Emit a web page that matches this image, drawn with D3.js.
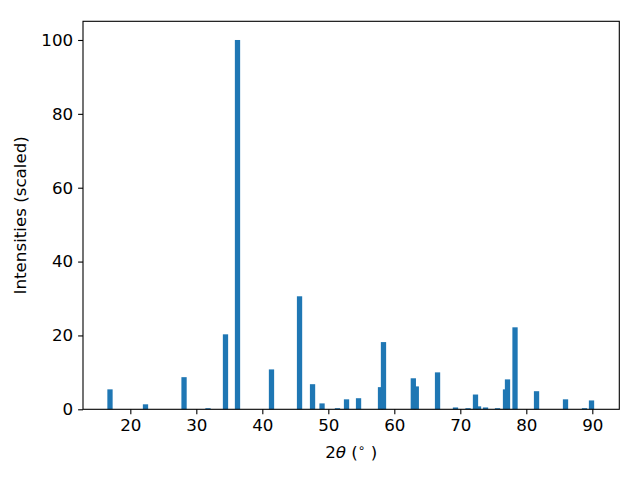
<!DOCTYPE html>
<html>
<head>
<meta charset="utf-8">
<script src="https://cdn.jsdelivr.net/npm/d3@7"></script>
<style>
  body { margin: 0; background: #fff; }
  text { font-family: "DejaVu Sans", sans-serif; }
</style>
</head>
<body>
<script>
// peak positions (2theta, degrees) and scaled intensities
var twoTheta = [16.92, 22.30, 28.14, 31.77, 34.42, 36.24, 41.39, 45.64, 47.61, 49.05,
                51.39, 52.76, 54.58, 57.91, 58.36, 62.88, 63.33, 66.55, 69.27, 71.17,
                72.30, 72.76, 73.82, 75.64, 76.85, 77.15, 78.29, 81.55, 85.94, 88.82, 89.88];
var intensity = [5.4, 1.35, 8.7, 0.3, 20.3, 100, 10.8, 30.6, 6.8, 1.6,
                 0.3, 2.7, 3.0, 6.0, 18.2, 8.4, 6.2, 10.0, 0.5, 0.3,
                 4.0, 0.8, 0.5, 0.3, 5.4, 8.1, 22.2, 4.9, 2.7, 0.3, 2.4];
var xTicks = [20, 30, 40, 50, 60, 70, 80, 90];
var yTicks = [0, 20, 40, 60, 80, 100];
var barWidth = 0.8;

var data = twoTheta.map(function(t, i) { return {t: t, v: intensity[i]}; });

var margin = {top: 21.3, right: 20.7, bottom: 70.7, left: 83},
    width = 640 - margin.left - margin.right,
    height = 480 - margin.top - margin.bottom;

var fs = "16.7px";

var x = d3.scaleLinear().domain([12.83, 94.09]).range([0, width]);
var y = d3.scaleLinear().domain([0, 105.06]).range([height, 0]);

var svg = d3.select("body")
    .append("svg")
    .attr("width", 640)
    .attr("height", 480)
    .append("g")
    .attr("transform", "translate(" + margin.left + "," + margin.top + ")");

// bars
svg.selectAll(".bar")
    .data(data)
    .enter().append("rect")
      .attr("class", "bar")
      .attr("x", function(d) { return x(d.t - barWidth / 2); })
      .attr("width", function(d) { return x(d.t + barWidth / 2) - x(d.t - barWidth / 2); })
      .attr("y", function(d) { return y(d.v); })
      .attr("height", function(d) { return height - y(d.v); })
      .style("fill", "#1f77b4");

// axes
var xAxis = d3.axisBottom(x).tickValues(xTicks).tickSize(4.9).tickPadding(4.9).tickFormat(d3.format("d"));
var yAxis = d3.axisLeft(y).tickValues(yTicks).tickSize(4.9).tickPadding(4.9).tickFormat(d3.format("d"));

var gx = svg.append("g")
    .attr("transform", "translate(0," + height + ")")
    .call(xAxis);
var gy = svg.append("g").call(yAxis);

[gx, gy].forEach(function(g) {
  g.attr("font-size", null).attr("font-family", null);
  g.select(".domain").remove();
  g.selectAll(".tick line").attr("stroke", "#000").attr("stroke-width", 1.1);
  g.selectAll(".tick text").attr("fill", "#000").style("font-size", fs);
});

// frame
svg.append("rect")
    .attr("width", width)
    .attr("height", height)
    .attr("fill", "none")
    .attr("stroke", "#000")
    .attr("stroke-width", 1.1);

// labels
var xl = svg.append("text")
    .attr("x", width / 2)
    .attr("y", height + 49)
    .attr("text-anchor", "middle")
    .style("font-size", fs);
xl.append("tspan").text("2");
xl.append("tspan").style("font-style", "italic").text("θ");
xl.append("tspan").text(" (");
xl.append("tspan").attr("dy", -6).style("font-size", "12px").text("∘");
xl.append("tspan").attr("dy", 6).text(" )");

svg.append("text")
    .attr("transform", "translate(" + (-57) + "," + (height / 2) + ") rotate(-90)")
    .attr("text-anchor", "middle")
    .style("font-size", fs)
    .text("Intensities (scaled)");
</script>
</body>
</html>
